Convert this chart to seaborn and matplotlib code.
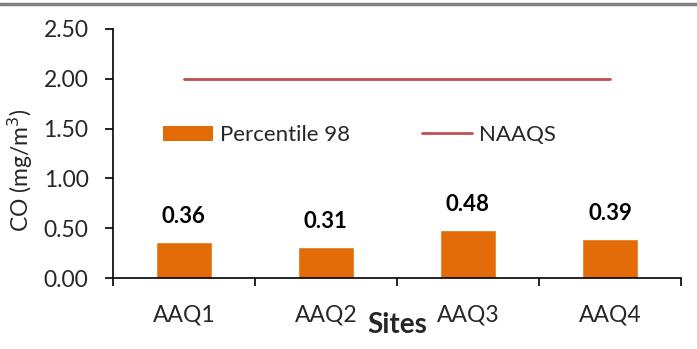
import matplotlib
matplotlib.use("Agg")
import matplotlib.pyplot as plt
from matplotlib.lines import Line2D
from matplotlib.patches import Patch
import seaborn as sns
import pandas as pd

sites = ["AAQ1", "AAQ2", "AAQ3", "AAQ4"]
percentile_98 = [0.36, 0.31, 0.48, 0.39]
naaqs = [2.00, 2.00, 2.00, 2.00]
y_ticks = [0.0, 0.5, 1.0, 1.5, 2.0, 2.5]

bar_color = "#E36C09"
line_color = "#C0504D"

sns.set_theme(style="white")
plt.rcParams["font.family"] = ["Lato", "DejaVu Sans"]

df = pd.DataFrame({"site": sites, "p98": percentile_98, "naaqs": naaqs})

fig = plt.figure(figsize=(6.97, 3.49), dpi=100)
ax = fig.add_axes([0.162, 0.203, 0.815, 0.714])

sns.barplot(data=df, x="site", y="p98", color=bar_color, width=0.4,
            saturation=1, ax=ax)
ax.plot(range(len(sites)), df["naaqs"], color=line_color, lw=2)

for i, v in enumerate(percentile_98):
    ax.text(i, v + 0.26, f"{v:.2f}", ha="center", va="center",
            fontsize=16, fontweight="bold", color="black")

ax.set_xlim(-0.5, len(sites) - 0.5)
ax.set_ylim(0, 2.5)
ax.set_yticks(y_ticks)
ax.set_yticklabels([f"{t:.2f}" for t in y_ticks], fontsize=16.5)
ax.set_xticks(range(len(sites)))
ax.set_xticklabels(sites, fontsize=16.5)
ax.set_xticks([i - 0.5 for i in range(len(sites) + 1)], minor=True)
ax.tick_params(axis="x", which="major", length=0, pad=19)
ax.tick_params(axis="x", which="minor", length=6, width=1.2, color="black",
               direction="out", bottom=True)
ax.tick_params(axis="y", length=5.5, width=1.2, color="black", direction="out",
               left=True, pad=12)

for side in ["top", "right"]:
    ax.spines[side].set_visible(False)
for side in ["left", "bottom"]:
    ax.spines[side].set_color("black")
    ax.spines[side].set_linewidth(1.2)

ax.set_ylabel("CO (mg/m$^3$)", fontsize=16.5)
ax.yaxis.set_label_coords(-0.137, 0.434)
ax.set_xlabel("Sites", fontsize=20, fontweight="bold", labelpad=-10)

handles = [Patch(facecolor=bar_color, edgecolor="none"),
           Line2D([0], [0], color=line_color, lw=2)]
ax.legend(handles, ["Percentile 98", "NAAQS"], ncol=2, frameon=False,
          fontsize=16, loc="center left", bbox_to_anchor=(0.053, 0.574),
          handlelength=2.25, handleheight=0.7, columnspacing=3.25,
          handletextpad=0.3)

fig.add_artist(Line2D([0, 1], [0.988, 0.988], color="#808080", lw=2.5,
                      transform=fig.transFigure))

fig.savefig("out.png", dpi=100, facecolor="white")
